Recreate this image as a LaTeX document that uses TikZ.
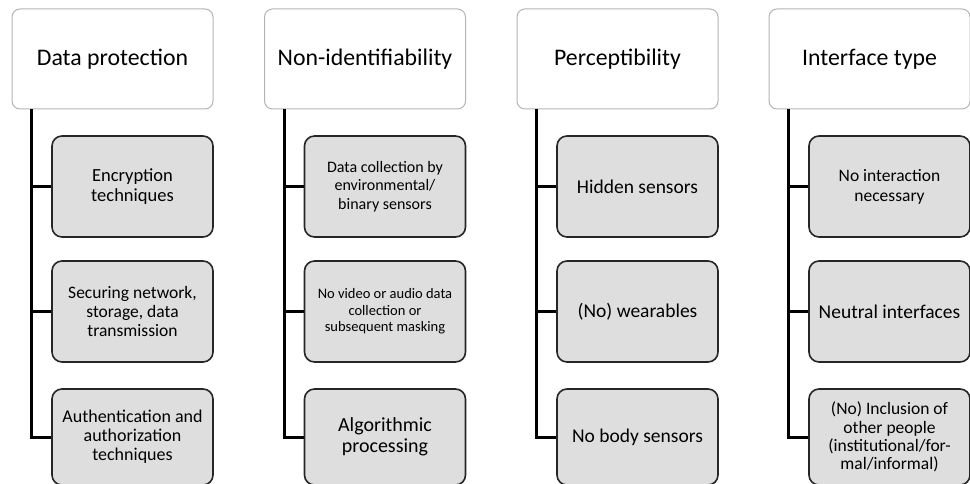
\documentclass[tikz,border=0pt]{standalone}
\usepackage{fontspec}
\setmainfont{Carlito}
\definecolor{itemfill}{HTML}{DEDEDE}
\definecolor{itemdraw}{HTML}{262626}
\definecolor{headdraw}{HTML}{B4B4B4}
\newcommand{\fs}[2]{\fontsize{#1}{#2}\selectfont}
\tikzset{
  headbox/.style={draw=headdraw, line width=1pt, fill=white, rounded corners=8pt,
    minimum width=201pt, minimum height=100pt, inner sep=0pt, align=center,
    font=\fs{23.8}{27}},
  itembox/.style={draw=itemdraw, line width=1.6pt, fill=itemfill, rounded corners=10pt,
    minimum width=161pt, minimum height=101pt, inner sep=0pt, align=center},
  lastbox/.style={itembox, minimum height=96pt},
  conn/.style={draw=black, line width=3pt, line join=miter},
}
\begin{document}
\begin{tikzpicture}[x=1pt,y=-1pt]
\useasboundingbox (0,0) rectangle (970,484);
% column 1
\node[headbox] (h1) at (112.5,59) {Data protection};
\node[itembox, font=\fs{18.5}{20}] (c11) at (132.5,186.5) {Encryption\\techniques};
\node[itembox, font=\fs{17.5}{19}] (c12) at (132.5,311.5) {Securing network,\\storage, data\\transmission};
\node[lastbox, font=\fs{18}{19}] (c13) at (132.5,437) {Authentication and\\authorization\\techniques};
% column 2
\node[headbox] (h2) at (365,59) {Non-identifiability};
\node[itembox, font=\fs{16}{18.7}] (c21) at (385,186.5) {Data collection by\\environmental/\\binary sensors};
\node[itembox, font=\fs{14.5}{16.3}] (c22) at (385,311.5) {No video or audio data\\collection or\\subsequent masking};
\node[lastbox, font=\fs{20}{20.5}] (c23) at (385,437) {Algorithmic\\processing};
% column 3
\node[headbox] (h3) at (617.5,59) {Perceptibility};
\node[itembox, font=\fs{19.5}{21}] (c31) at (637.5,186.5) {Hidden sensors};
\node[itembox, font=\fs{19.5}{21}] (c32) at (637.5,311.5) {(No) wearables};
\node[lastbox, font=\fs{19.5}{21}] (c33) at (637.5,437) {No body sensors};
% column 4
\node[headbox] (h4) at (869.5,59) {Interface type};
\node[itembox, font=\fs{17.5}{20}] (c41) at (889.5,186.5) {No interaction\\necessary};
\node[itembox, font=\fs{19.5}{21}] (c42) at (889.5,311.5) {Neutral interfaces};
\node[lastbox, font=\fs{17.5}{18.3}] (c43) at (889.5,437) {(No) Inclusion of\\other people\\(institutional/for-\\mal/informal)};
% connectors
\foreach \h/\a/\b/\c in {h1/c11/c12/c13, h2/c21/c22/c23, h3/c31/c32/c33, h4/c41/c42/c43}{
  \coordinate (\h v) at ([xshift=20pt]\h.south west);
  \draw[conn] (\h v) |- (\c.west);
  \draw[conn] (\h v) |- (\a.west);
  \draw[conn] (\h v) |- (\b.west);
}
\end{tikzpicture}
\end{document}
